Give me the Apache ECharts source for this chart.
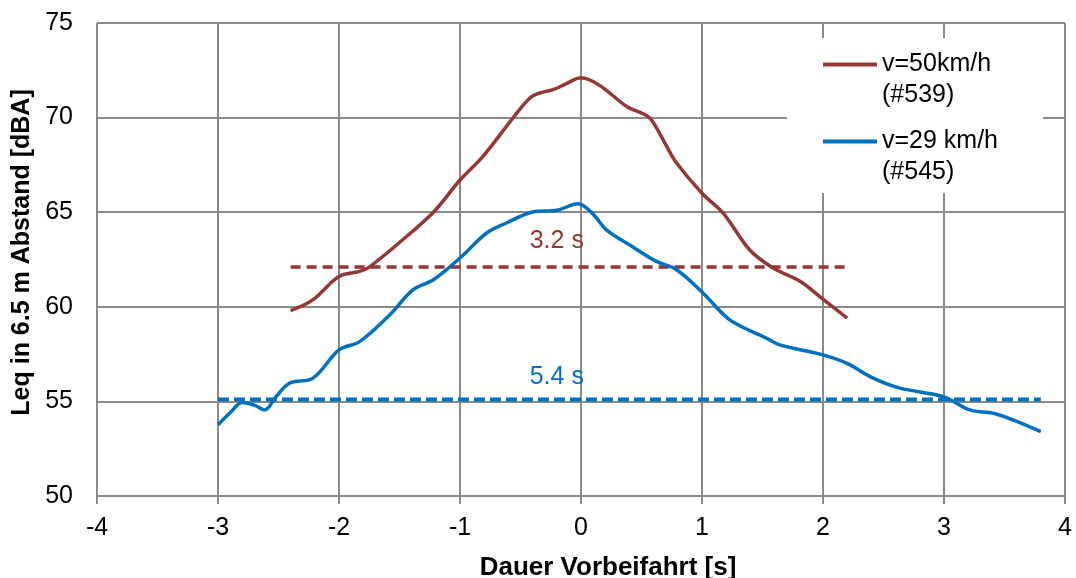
<!DOCTYPE html>
<html><head><meta charset="utf-8">
<script src="https://cdn.jsdelivr.net/npm/echarts@6/dist/echarts.min.js"></script>
<style>html,body{margin:0;padding:0;background:#fff}#c{width:1076px;height:578px}</style>
</head><body><div id="c"></div>
<script>
const seriesNames = ['v=50km/h\n(#539)', 'v=29 km/h\n(#545)'];
const redX = [-2.40,-2.22,-2.00,-1.83,-1.75,-1.50,-1.22,-1.00,-0.81,-0.56,-0.42,-0.34,-0.22,-0.12,0.00,0.155,0.375,0.555,0.62,0.706,0.79,1.00,1.175,1.395,1.588,1.81,2.00,2.20];
const redY = [59.8,60.35,61.6,61.87,62.1,63.4,65.0,66.7,67.95,70.0,71.05,71.3,71.5,71.8,72.1,71.7,70.6,70.05,69.5,68.5,67.6,66.0,64.95,63.0,62.05,61.35,60.4,59.4];
const blueX = [-3.00,-2.90,-2.80,-2.70,-2.616,-2.52,-2.41,-2.215,-2.00,-1.83,-1.58,-1.39,-1.22,-1.00,-0.78,-0.617,-0.397,-0.20,-0.025,0.10,0.21,0.40,0.624,0.79,1.01,1.23,1.534,1.643,2.00,2.195,2.415,2.636,2.994,3.215,3.408,3.57,3.80];
const blueY = [53.76,54.4,54.94,54.8,54.55,55.25,55.96,56.23,57.72,58.16,59.58,60.9,61.43,62.58,63.9,64.43,65.01,65.1,65.45,64.9,64.07,63.28,62.4,61.96,60.72,59.31,58.34,57.99,57.46,57.02,56.23,55.7,55.25,54.55,54.37,54.02,53.4];
const redDashX = [-2.4, 2.2], redDashY = [62.1, 62.1];
const blueDashX = [-3.0, 3.8], blueDashY = [55.1, 55.1];
const annX = [-0.2, -0.2], annY = [63.45, 56.3], annText = ['3.2 s', '5.4 s'];
const xMin = -4, xMax = 4, xStep = 1;
const yMin = 50, yMax = 75, yStep = 5;
const xTitle = 'Dauer Vorbeifahrt [s]';
const yTitle = 'Leq in 6.5 m Abstand [dBA]';

const RED = '#953735', BLUE = '#0070C0', GRID = '#8a8a8a';
const FONT = 'Liberation Sans, Arial, sans-serif';
const zip = (xs, ys) => xs.map((x, i) => [x, ys[i]]);

const chart = echarts.init(document.getElementById('c'), null, {renderer: 'canvas'});
chart.setOption({
  animation: false,
  grid: {left: 97, right: 11, top: 23, bottom: 82, containLabel: false, outerBoundsMode: 'none'},
  xAxis: {
    type: 'value', min: xMin, max: xMax, interval: xStep,
    name: xTitle, nameLocation: 'middle', nameGap: 59,
    nameTextStyle: {fontFamily: FONT, fontSize: 26, fontWeight: 'bold', color: '#000', padding: [0, 0, 0, 54]},
    axisLine: {show: true, onZero: false, lineStyle: {color: GRID, width: 2}},
    axisTick: {show: true, inside: false, length: 8, lineStyle: {color: GRID, width: 2}},
    axisLabel: {fontFamily: FONT, fontSize: 25, color: '#000', margin: 20},
    splitLine: {show: true, lineStyle: {color: GRID, width: 2}}
  },
  yAxis: {
    type: 'value', min: yMin, max: yMax, interval: yStep,
    name: yTitle, nameLocation: 'middle', nameGap: 50,
    nameTextStyle: {fontFamily: FONT, fontSize: 25, fontWeight: 'bold', color: '#000', padding: [0, 0, 0, 14]},
    axisLine: {show: true, lineStyle: {color: GRID, width: 2}},
    axisTick: {show: true, inside: false, length: 8, lineStyle: {color: GRID, width: 2}},
    axisLabel: {fontFamily: FONT, fontSize: 25, color: '#000', margin: 24},
    splitLine: {show: true, lineStyle: {color: GRID, width: 2}}
  },
  graphic: [{
    type: 'rect', z: 3, silent: true,
    shape: {x: 787, y: 38, width: 256, height: 155},
    style: {fill: '#fff'}
  }],
  legend: {
    z: 4, orient: 'vertical', left: 823, top: 18,
    padding: 0, itemGap: -16, itemWidth: 54, itemHeight: 4, icon: 'rect',
    data: seriesNames,
    formatter: name => '\n' + name,
    textStyle: {fontFamily: FONT, fontSize: 25, color: '#000', lineHeight: 31}
  },
  series: [
    {name: seriesNames[0], type: 'line', data: zip(redX, redY), smooth: 0.35, showSymbol: false, symbol: 'none',
     lineStyle: {color: RED, width: 3.5}, itemStyle: {color: RED}, z: 5},
    {name: seriesNames[1], type: 'line', data: zip(blueX, blueY), smooth: 0.35, showSymbol: false, symbol: 'none',
     lineStyle: {color: BLUE, width: 3.5}, itemStyle: {color: BLUE}, z: 5},
    {name: 'redDash', type: 'line', data: zip(redDashX, redDashY), showSymbol: false, symbol: 'none',
     lineStyle: {color: RED, width: 3.5, type: [10, 6]}, z: 4},
    {name: 'blueDash', type: 'line', data: zip(blueDashX, blueDashY), showSymbol: false, symbol: 'none',
     lineStyle: {color: BLUE, width: 4, type: [11, 5]}, z: 4},
    {name: 'ann', type: 'scatter', symbolSize: 0, z: 6, itemStyle: {opacity: 1},
     data: annX.map((x, i) => ({value: [x, annY[i]], label: {color: i === 0 ? RED : BLUE}})),
     label: {show: true, position: 'inside', fontFamily: FONT, fontSize: 25, opacity: 1,
       formatter: p => annText[p.dataIndex]}}
  ]
});
</script></body></html>
